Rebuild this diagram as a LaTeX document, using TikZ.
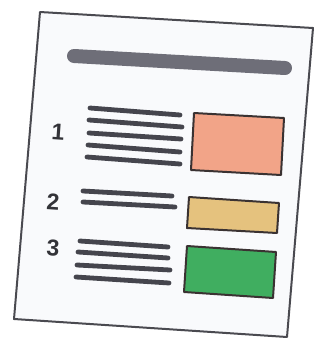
\documentclass[tikz,border=0pt]{standalone}
\usepackage{fontspec}
\setmainfont{Liberation Sans}
\definecolor{pageedge}{HTML}{4A4A50}
\definecolor{pagefill}{HTML}{F9FAFC}
\definecolor{barcol}{HTML}{6E6E78}
\definecolor{textline}{HTML}{45454D}
\definecolor{digitcol}{HTML}{333338}
\definecolor{boxedge}{HTML}{3A3232}
\definecolor{salmon}{HTML}{F2A488}
\definecolor{tan}{HTML}{E5C27E}
\definecolor{grn}{HTML}{40AE60}
\tikzset{
  sheet/.style={draw=pageedge, fill=pagefill, line width=2pt, line join=round},
  titlebar/.style={draw=barcol, line width=14pt, line cap=round},
  txtline/.style={draw=textline, line width=4.8pt, line cap=round},
  digit/.style={text=digitcol, font=\bfseries\fontsize{23}{23}\selectfont, rotate=-4, inner sep=0pt},
  colbox/.style={draw=boxedge, line width=2pt, line join=round}
}
\begin{document}
\begin{tikzpicture}[x=1pt,y=-1pt]
\useasboundingbox (0,0) rectangle (323,338);
% sheet
\draw[sheet] (40,12) -- (313,28) -- (287,337) -- (14,319) -- cycle;
% title bar
\coordinate (barL) at (74,56);
\coordinate (barR) at (285,68);
\draw[titlebar] (barL) -- (barR);
% numbers
\node[digit] (n1) at (58,132) {1};
\node[digit] (n2) at (53,202) {2};
\node[digit] (n3) at (53,248) {3};
% group 1 lines
\foreach \i/\yl/\yr/\xl/\xr in {1/108/115/90/180, 2/120/127/89/182, 3/133/139/89/181, 4/145/152/88/180, 5/157/164/87/180}{
  \coordinate (a\i) at (\xl,\yl);
  \coordinate (b\i) at (\xr,\yr);
  \draw[txtline] (a\i) -- (b\i);
}
% group 2 lines
\coordinate (c1) at (83,191); \coordinate (d1) at (172,196);
\coordinate (c2) at (83,202); \coordinate (d2) at (175,207);
\draw[txtline] (c1) -- (d1);
\draw[txtline] (c2) -- (d2);
% group 3 lines
\foreach \i/\xl/\yl/\xr/\yr in {1/80/241/168/247, 2/78/252/168/258, 3/77/265/170/270, 4/76/277/169/283}{
  \coordinate (e\i) at (\xl,\yl);
  \coordinate (f\i) at (\xr,\yr);
  \draw[txtline] (e\i) -- (f\i);
}
% coloured boxes
\draw[colbox, fill=salmon] (194,113) -- (284,118) -- (281,175) -- (191,170) -- cycle;
\draw[colbox, fill=tan] (189,197) -- (279,203) -- (277,233) -- (187,228) -- cycle;
\draw[colbox, fill=grn] (187,246) -- (276,252) -- (273,298) -- (184,292) -- cycle;
\end{tikzpicture}
\end{document}
